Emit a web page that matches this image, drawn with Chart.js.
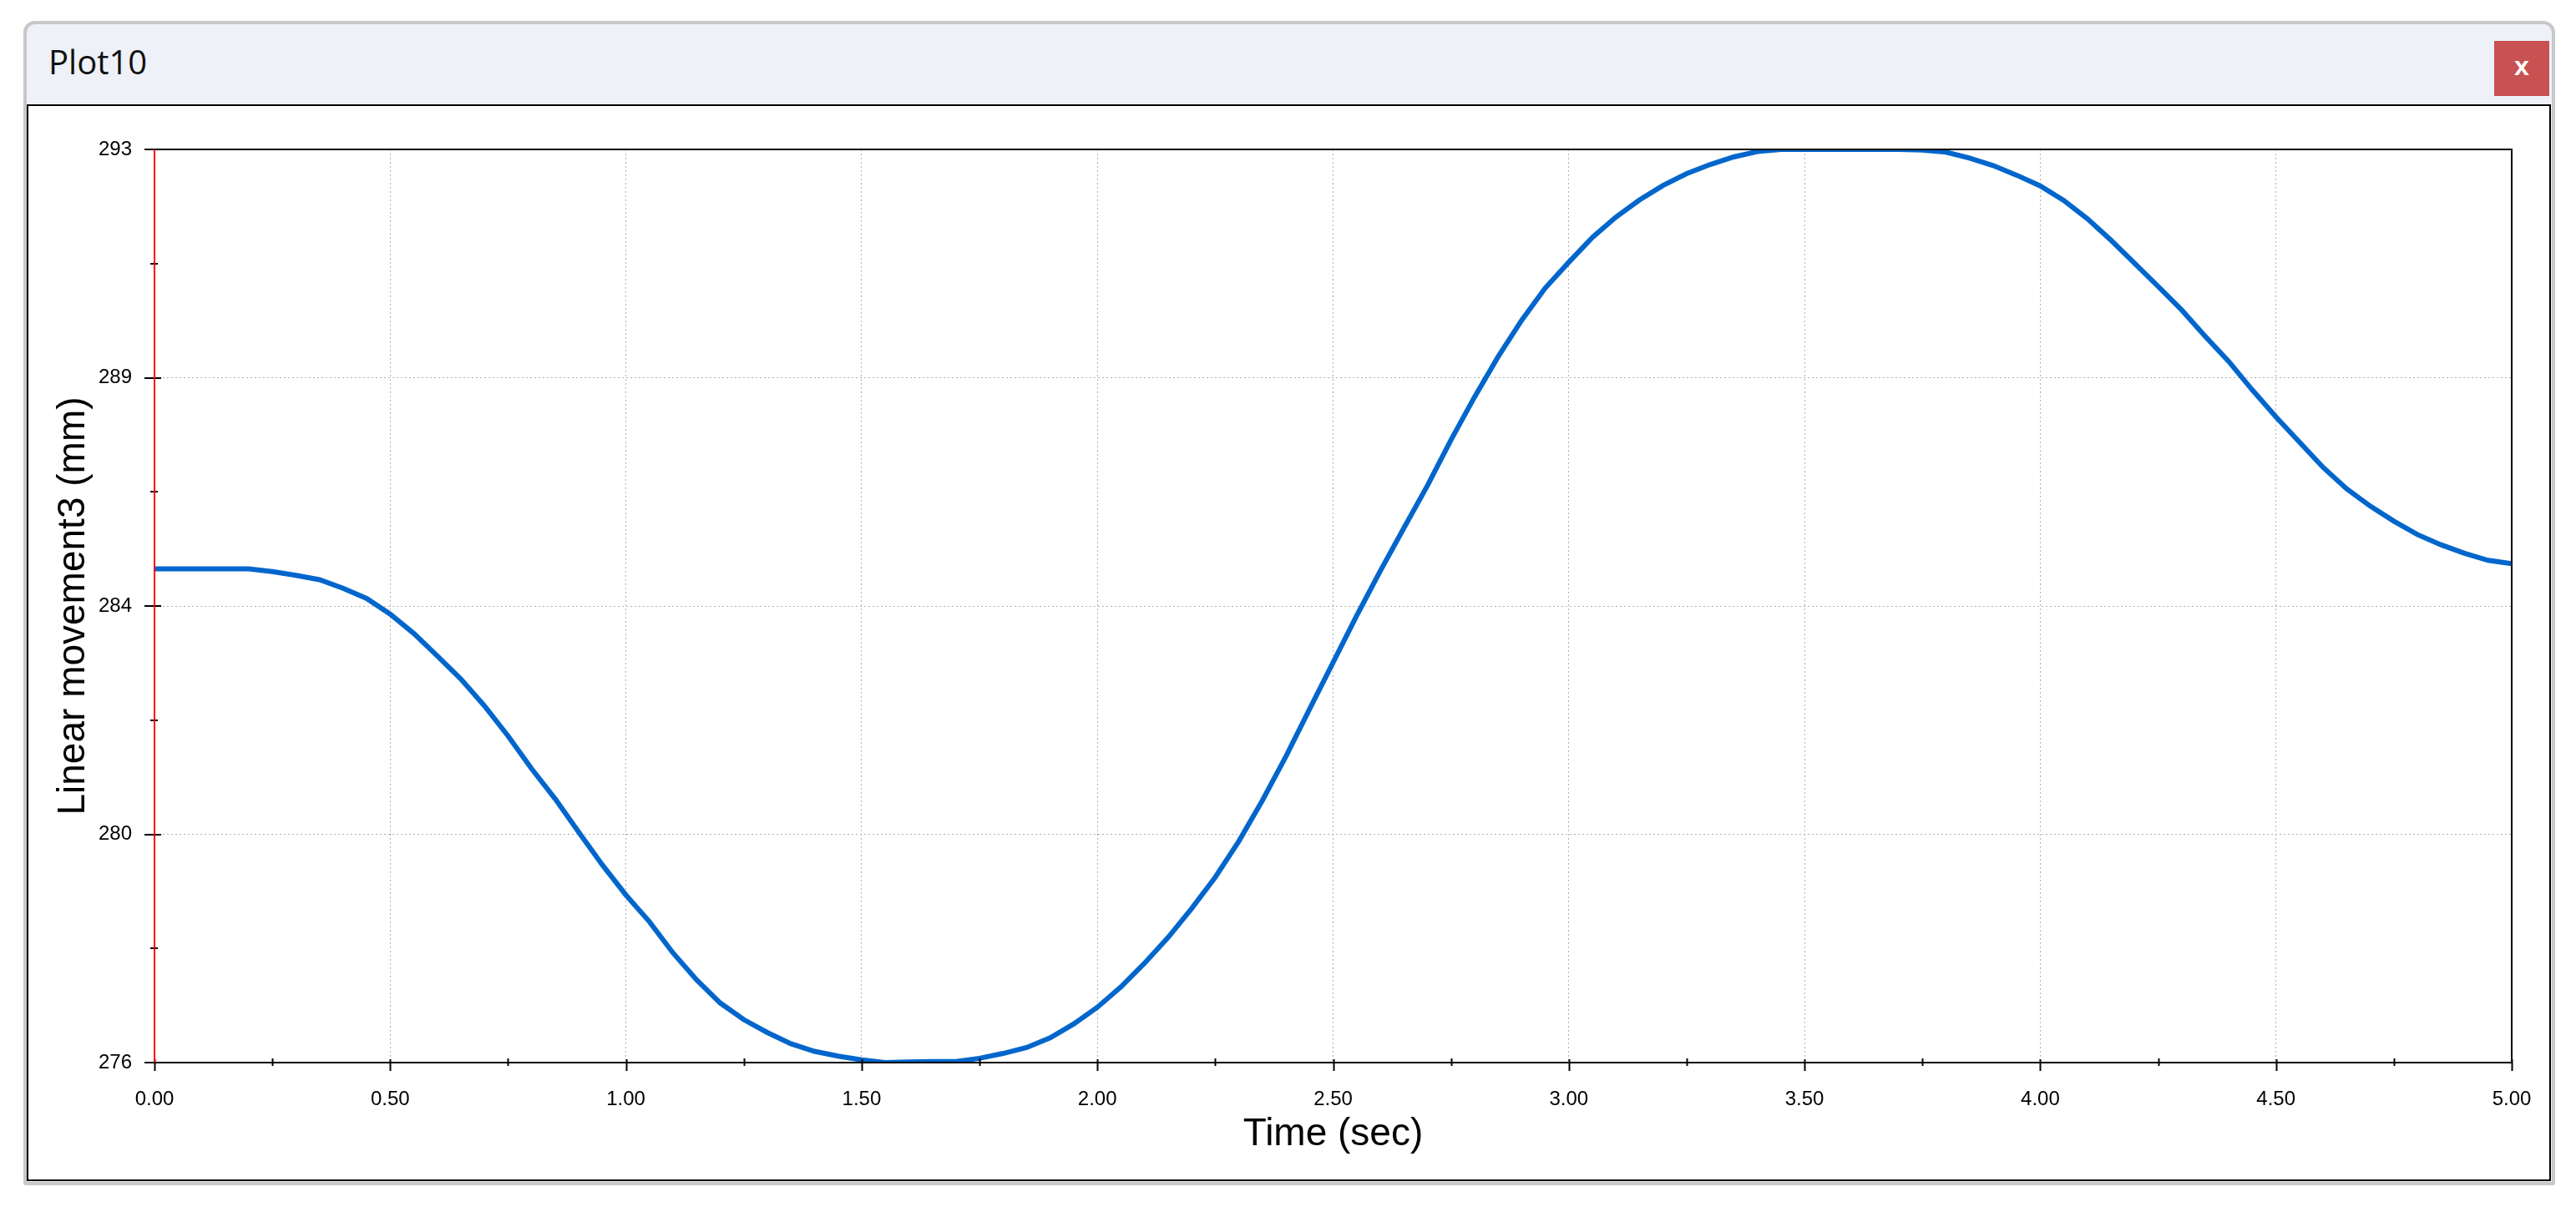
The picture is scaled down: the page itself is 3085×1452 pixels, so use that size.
<!DOCTYPE html>
<html>
<head>
<meta charset="utf-8">
<script src="https://cdn.jsdelivr.net/npm/chart.js@4/dist/chart.umd.min.js"></script>
<style>
  html, body { margin:0; padding:0; background:#ffffff; width:3085px; height:1452px; overflow:hidden; }
  #win { position:absolute; left:28px; top:25px; width:3032px; height:1395px; box-sizing:border-box;
         border:4px solid #c8c8c8; border-radius:14px 14px 3px 3px; background:#eff1f8; }
  #title { position:absolute; left:58px; top:54px; font-family:"Open Sans", "Noto Sans", sans-serif;
           font-size:40px; line-height:40px; color:#111; }
  #close { position:absolute; left:2987px; top:49px; width:66px; height:66px; background:#c85151;
           color:#fff; font-family:"Liberation Sans", Arial, sans-serif; font-weight:bold; font-size:32px;
           line-height:60px; text-align:center; }
  #panel { position:absolute; left:32px; top:125px; width:3023px; height:1290px; box-sizing:border-box;
           border:2px solid #000; background:#fff; }
  #c { position:absolute; left:0; top:0; z-index:5; }
</style>
</head>
<body>
<div id="win"></div>
<div id="title">Plot10</div>
<div id="close">x</div>
<div id="panel"></div>
<canvas id="c" width="3085" height="1452"></canvas>
<script>
// ---- data ----
const timeSec = [0.00,0.10,0.20,0.25,0.30,0.35,0.40,0.45,0.50,0.55,0.60,0.65,0.70,0.75,0.80,0.85,0.90,0.95,
  1.00,1.05,1.10,1.15,1.20,1.25,1.30,1.35,1.40,1.45,1.50,1.55,1.60,1.65,1.70,1.75,1.80,1.85,1.90,1.95,
  2.00,2.05,2.10,2.15,2.20,2.25,2.30,2.35,2.40,2.45,2.50,2.55,2.60,2.65,2.70,2.75,2.80,2.85,2.90,2.95,
  3.00,3.05,3.10,3.15,3.20,3.25,3.30,3.35,3.40,3.45,3.50,3.60,3.70,3.75,3.80,3.85,3.90,3.95,
  4.00,4.05,4.10,4.15,4.20,4.25,4.30,4.35,4.40,4.45,4.50,4.55,4.60,4.65,4.70,4.75,4.80,4.85,4.90,4.95,5.00];
const movementMm = [285.19,285.19,285.19,285.14,285.07,284.99,284.83,284.64,284.35,283.99,283.57,283.14,282.64,282.08,281.47,280.91,280.29,279.68,
  279.12,278.62,278.04,277.54,277.11,276.80,276.56,276.35,276.21,276.12,276.05,276.00,276.01,276.02,276.02,276.08,276.17,276.28,276.46,276.72,
  277.03,277.41,277.85,278.33,278.87,279.45,280.12,280.88,281.70,282.58,283.45,284.32,285.15,285.95,286.74,287.59,288.39,289.14,289.82,290.42,
  290.90,291.36,291.74,292.06,292.33,292.55,292.72,292.86,292.96,293.00,293.00,293.00,293.00,292.99,292.95,292.84,292.70,292.52,
  292.32,292.05,291.71,291.31,290.88,290.45,290.01,289.52,289.05,288.52,288.02,287.55,287.08,286.68,286.36,286.08,285.83,285.64,285.48,285.35,285.29];

const xTickValues = [0, 0.5, 1, 1.5, 2, 2.5, 3, 3.5, 4, 4.5, 5];
const xTickLabels = ['0.00','0.50','1.00','1.50','2.00','2.50','3.00','3.50','4.00','4.50','5.00'];
const yTickValues = [276, 280.25, 284.5, 288.75, 293];
const yTickLabels = ['276','280','284','289','293'];

const xTitle = 'Time (sec)';
const yTitle = 'Linear movement3 (mm)';

const points = timeSec.map((t, i) => ({ x: t, y: movementMm[i] }));

function midpoints(arr) {
  const out = [];
  for (let i = 0; i < arr.length - 1; i++) out.push((arr[i] + arr[i + 1]) / 2);
  return out;
}

const framePlugin = {
  id: 'frameTicks',
  afterDatasetsDraw(chart) {
    const ctx = chart.ctx;
    const a = chart.chartArea;
    const xs = chart.scales.x, ys = chart.scales.y;
    ctx.save();
    ctx.lineCap = 'butt';
    ctx.strokeStyle = '#000';
    ctx.lineWidth = 2;
    ctx.beginPath();
    ctx.moveTo(a.left, a.top); ctx.lineTo(a.right, a.top);
    ctx.lineTo(a.right, a.bottom); ctx.lineTo(a.left, a.bottom);
    ctx.stroke();
    xTickValues.forEach(v => {
      const p = Math.round(xs.getPixelForValue(v)) + 0.5;
      ctx.beginPath(); ctx.moveTo(p, a.bottom - 4); ctx.lineTo(p, a.bottom + 10); ctx.stroke();
    });
    midpoints(xTickValues).forEach(v => {
      const p = Math.round(xs.getPixelForValue(v)) + 0.5;
      ctx.beginPath(); ctx.moveTo(p, a.bottom - 5); ctx.lineTo(p, a.bottom + 4); ctx.stroke();
    });
    yTickValues.forEach(v => {
      const p = Math.round(ys.getPixelForValue(v));
      ctx.beginPath(); ctx.moveTo(a.left - 12, p); ctx.lineTo(a.left + 8, p); ctx.stroke();
    });
    midpoints(yTickValues).forEach(v => {
      const p = Math.round(ys.getPixelForValue(v));
      ctx.beginPath(); ctx.moveTo(a.left - 5, p); ctx.lineTo(a.left + 4, p); ctx.stroke();
    });
    ctx.strokeStyle = '#ff0000';
    ctx.lineWidth = 2;
    ctx.beginPath(); ctx.moveTo(a.left, a.top); ctx.lineTo(a.left, a.bottom); ctx.stroke();
    ctx.restore();
  }
};

const tickFont = { family: 'Liberation Sans', size: 24 };
const titleFont = { family: 'Liberation Sans', size: 46 };

new Chart(document.getElementById('c'), {
  type: 'line',
  data: {
    datasets: [{
      data: points,
      borderColor: '#0066cc',
      borderWidth: 6,
      pointRadius: 0,
      tension: 0,
      fill: false
    }]
  },
  options: {
    responsive: false,
    devicePixelRatio: 1,
    animation: false,
    layout: { padding: { left: 40, top: 179, right: 77, bottom: 40 } },
    plugins: { legend: { display: false }, tooltip: { enabled: false } },
    scales: {
      x: {
        type: 'linear', min: 0, max: 5,
        afterBuildTicks: s => { s.ticks = xTickValues.map(v => ({ value: v })); },
        afterFit: s => { s.height = 139; },
        ticks: { autoSkip: false, maxRotation: 0, padding: 30, color: '#000', font: tickFont,
                 callback: (v, i) => xTickLabels[i] },
        grid: { color: '#b0b0b0', lineWidth: 1, drawTicks: false },
        border: { display: false, dash: [2, 3] },
        title: { display: true, text: xTitle, color: '#000', font: titleFont, padding: { top: 0, bottom: 25 } }
      },
      y: {
        type: 'linear', min: 276, max: 293,
        afterBuildTicks: s => { s.ticks = yTickValues.map(v => ({ value: v })); },
        afterFit: s => { s.width = 145; },
        ticks: { autoSkip: false, padding: 27, color: '#000', font: tickFont,
                 callback: (v, i) => yTickLabels[i] },
        grid: { color: '#b0b0b0', lineWidth: 1, drawTicks: false },
        border: { display: false, dash: [2, 3] },
        title: { display: true, text: yTitle, color: '#000', font: titleFont, padding: { top: 21, bottom: 0 } }
      }
    }
  },
  plugins: [framePlugin]
});
</script>
</body>
</html>
